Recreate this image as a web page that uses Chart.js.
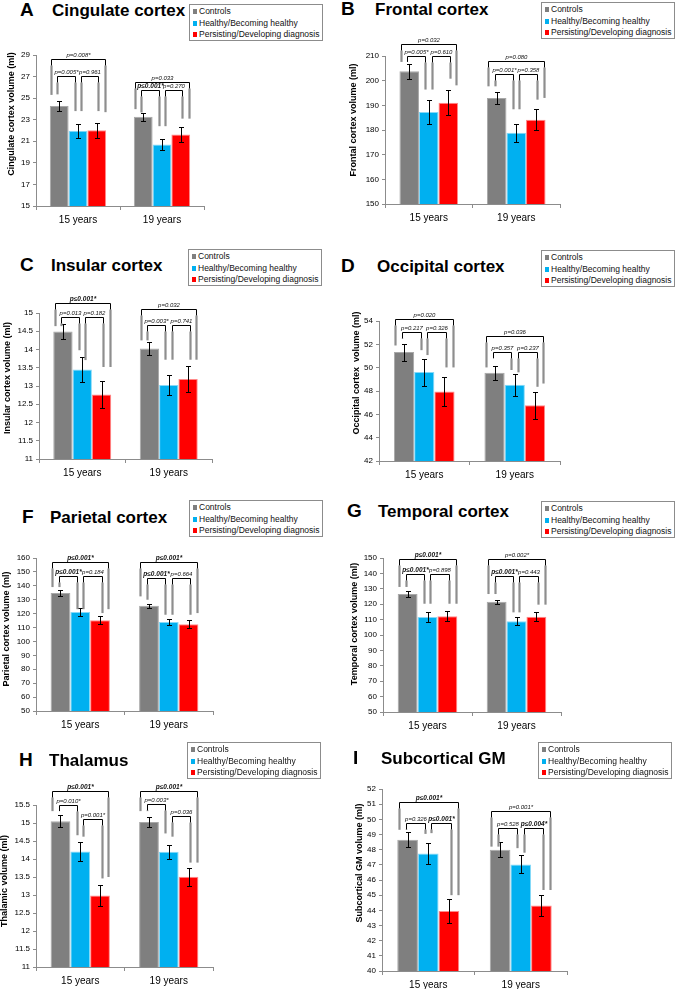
<!DOCTYPE html>
<html>
<head>
<meta charset="utf-8">
<script src="https://cdn.jsdelivr.net/npm/chart.js@4.4.0/dist/chart.umd.min.js"></script>
<style>
  body { margin: 0; width: 677px; height: 989px; position: relative; background: #fff; overflow: hidden; font-family: "Liberation Sans", Arial, sans-serif; }
  canvas { position: absolute; }
  .letter { position: absolute; font-weight: bold; font-size: 19px; line-height: 19px; color: #000; }
  .title { position: absolute; font-weight: bold; font-size: 17px; line-height: 17px; color: #000; white-space: nowrap; }
  .legend { position: absolute; width: 134px; height: 37px; box-sizing: border-box; border: 1px solid #8c8c8c; padding: 1px 0 0 3px; font-size: 8.5px; color: #111; }
  .legend div { height: 11.5px; line-height: 11.5px; white-space: nowrap; }
  .legend i { display: inline-block; width: 4px; height: 5px; margin-right: 2px; vertical-align: 0; }
</style>
</head>
<body>
<script>
const ages = ['15 years', '19 years'];
const groups = ['Controls', 'Healthy/Becoming healthy', 'Persisting/Developing diagnosis'];

// means and error bars: one array per group, values for 15 and 19 years
// p-value brackets: [age, bracket, top, left leg end, right leg end, label]
const cingulateMean = [[24.26, 23.27], [21.97, 20.70], [22.03, 21.63]];
const cingulateSem = [[0.43, 0.39], [0.63, 0.52], [0.70, 0.68]];
const cingulateTicks = [15, 29, 2];
const cingulateP = [
    [0, 0, 28.6, 25.3, 23.7, 'p=0.008*'],
    [0, 1, 27.05, 25.35, 23.8, 'p=0.005*'],
    [0, 2, 27.05, 23.8, 23.8, 'p=0.961'],
    [1, 0, 26.5, 23.98, 23.1, 'p=0.033'],
    [1, 1, 25.74, 23.67, 22.4, 'p≤0.001*'],
    [1, 2, 25.74, 22.4, 23.1, 'p=0.270']
];

const frontalMean = [[203.8, 193.0], [187.3, 178.9], [191.0, 184.2]];
const frontalSem = [[3.1, 2.4], [4.8, 3.6], [5.1, 4.3]];
const frontalTicks = [150, 210, 10];
const frontalP = [
    [0, 0, 215, 207.6, 198.1, 'p=0.032'],
    [0, 1, 210, 207.6, 196.4, 'p=0.005*'],
    [0, 2, 210, 196.4, 200.8, 'p=0.610'],
    [1, 0, 207.8, 197.7, 193, 'p=0.080'],
    [1, 1, 202.6, 197.7, 188.4, 'p=0.001*'],
    [1, 2, 202.6, 188.4, 192.3, 'p=0.358']
];

const insularMean = [[14.49, 14.03], [13.45, 13.03], [12.77, 13.19]];
const insularSem = [[0.21, 0.17], [0.34, 0.27], [0.37, 0.36]];
const insularTicks = [11, 15, 0.5];
const insularP = [
    [0, 0, 15.28, 14.64, 13.52, 'p≤0.001*'],
    [0, 1, 14.89, 14.64, 13.98, 'p=0.013'],
    [0, 2, 14.89, 13.71, 13.52, 'p=0.182'],
    [1, 0, 15.12, 14.25, 13.72, 'p=0.032'],
    [1, 1, 14.68, 14.25, 13.72, 'p=0.003*'],
    [1, 2, 14.68, 13.72, 13.72, 'p=0.741']
];

const occipitalMean = [[51.34, 49.56], [49.62, 48.53], [47.96, 46.78]];
const occipitalSem = [[0.73, 0.6], [1.15, 0.92], [1.25, 1.17]];
const occipitalTicks = [42, 54, 2];
const occipitalP = [
    [0, 0, 54.2, 51.9, 50.02, 'p=0.020'],
    [0, 1, 53.05, 52.48, 51.5, 'p=0.217'],
    [0, 2, 53.05, 51.08, 50.02, 'p=0.326'],
    [1, 0, 52.74, 50.02, 48.64, 'p=0.036'],
    [1, 1, 51.34, 50.8, 49.8, 'p=0.357'],
    [1, 2, 51.34, 49.6, 48.36, 'p=0.237']
];

const parietalMean = [[134.8, 125.6], [121.1, 113.9], [115.3, 112.4]];
const parietalSem = [[2.0, 1.6], [3.1, 2.2], [3.0, 2.8]];
const parietalTicks = [50, 160, 10];
const parietalP = [
    [0, 0, 157.1, 139.1, 123.2, 'p≤0.001*'],
    [0, 1, 147.3, 139.1, 123.2, 'p≤0.001*'],
    [0, 2, 147.3, 123.2, 120.4, 'p=0.184'],
    [1, 0, 157.1, 132.4, 120.4, 'p≤0.001*'],
    [1, 1, 145.6, 130, 119.2, 'p≤0.001*'],
    [1, 2, 145.6, 119.2, 119.2, 'p=0.664']
];

const temporalMean = [[126.6, 121.6], [111.7, 108.9], [112.1, 111.9]];
const temporalSem = [[2.1, 1.4], [3.1, 2.5], [3.2, 3.0]];
const temporalTicks = [50, 150, 10];
const temporalP = [
    [0, 0, 149.4, 131.2, 120.3, 'p≤0.001*'],
    [0, 1, 139.8, 131.2, 120.3, 'p≤0.001*'],
    [0, 2, 139.8, 120.3, 120.3, 'p=0.898'],
    [1, 0, 149.4, 126.6, 119.7, 'p=0.002*'],
    [1, 1, 138.3, 126.6, 114.7, 'p≤0.001*'],
    [1, 2, 138.3, 114.7, 119.7, 'p=0.443']
];

const thalamusMean = [[15.05, 15.03], [14.21, 14.2], [12.985, 13.51]];
const thalamusSem = [[0.16, 0.15], [0.265, 0.2], [0.28, 0.25]];
const thalamusTicks = [11, 15.5, 0.5];
const thalamusP = [
    [0, 0, 15.89, 15.33, 13.5, 'p≤0.001*'],
    [0, 1, 15.5, 15.33, 14.66, 'p=0.010*'],
    [0, 2, 15.1, 14.62, 13.46, 'p=0.001*'],
    [1, 0, 15.89, 15.33, 13.9, 'p≤0.001*'],
    [1, 1, 15.53, 15.33, 14.71, 'p=0.003*'],
    [1, 2, 15.19, 14.62, 13.9, 'p=0.036']
];

const subcorticalMean = [[48.65, 48.0], [47.75, 47.03], [43.95, 44.32]];
const subcorticalSem = [[0.5, 0.5], [0.72, 0.6], [0.8, 0.72]];
const subcorticalTicks = [40, 52, 1];
const subcorticalP = [
    [0, 0, 51.12, 49.31, 45.0, 'p≤0.001*'],
    [0, 1, 49.75, 49.31, 49.04, 'p=0.326'],
    [0, 2, 49.75, 49.09, 45.0, 'p≤0.001*'],
    [1, 0, 50.52, 48.2, 45.34, 'p=0.001*'],
    [1, 1, 49.42, 48.2, 48.1, 'p=0.528'],
    [1, 2, 49.42, 47.8, 45.34, 'p≤0.004*']
];

const COLORS = ['#7f7f7f', '#00b0f0', '#ff0000'];
const EDGES = ['#a8a8a8', '#86d9f8', '#ff8a8a'];
// leg positions of each bracket, in bar steps from the first bar of the group
const LEGS = [[-0.43, 2.42], [-0.1, 0.82], [1.15, 2.08]];

// area = [left, top, right, bottom] of the plot; axisTitle = centre of y title; head = [letter x, title x, baseline]
const panels = [
    { letter: 'A', name: 'Cingulate cortex', yTitle: 'Cingulate cortex volume (ml)', mean: cingulateMean, sem: cingulateSem, ticks: cingulateTicks, p: cingulateP,
      col: 0, area: [36, 55, 204, 206], axisTitle: [12, 114], head: [20, 52, 16], legend: [189, 4] },
    { letter: 'B', name: 'Frontal cortex', yTitle: 'Frontal cortex volume (ml)', mean: frontalMean, sem: frontalSem, ticks: frontalTicks, p: frontalP,
      col: 1, area: [385, 56, 560, 204], axisTitle: [354, 120], head: [341, 375, 15], legend: [541, 2] },
    { letter: 'C', name: 'Insular cortex', yTitle: 'Insular cortex volume (ml)', mean: insularMean, sem: insularSem, ticks: insularTicks, p: insularP,
      col: 0, area: [39, 313, 212, 459], axisTitle: [8, 378], head: [20, 51, 271], legend: [188, 249] },
    { letter: 'D', name: 'Occipital cortex', yTitle: 'Occipital cortex  volume (ml)', mean: occipitalMean, sem: occipitalSem, ticks: occipitalTicks, p: occipitalP,
      col: 1, area: [379, 321, 560, 461], axisTitle: [357, 373], head: [341, 377, 272], legend: [541, 250] },
    { letter: 'F', name: 'Parietal cortex', yTitle: 'Parietal cortex volume (ml)', mean: parietalMean, sem: parietalSem, ticks: parietalTicks, p: parietalP,
      col: 0, area: [36, 558, 213, 711], axisTitle: [7, 629], head: [22, 50, 523], legend: [189, 500] },
    { letter: 'G', name: 'Temporal cortex', yTitle: 'Temporal cortex volume (ml)', mean: temporalMean, sem: temporalSem, ticks: temporalTicks, p: temporalP,
      col: 1, area: [383, 558, 561, 712], axisTitle: [355, 624], head: [347, 378, 517], legend: [541, 501] },
    { letter: 'H', name: 'Thalamus', yTitle: 'Thalamic volume (ml)', mean: thalamusMean, sem: thalamusSem, ticks: thalamusTicks, p: thalamusP,
      col: 0, area: [36, 805, 213, 967], axisTitle: [5, 881], head: [19, 49, 766], legend: [187, 742] },
    { letter: 'I', name: 'Subcortical GM', yTitle: 'Subcortical GM volume (ml)', mean: subcorticalMean, sem: subcorticalSem, ticks: subcorticalTicks, p: subcorticalP,
      col: 1, area: [382, 789, 567, 971], axisTitle: [360, 863], head: [353, 381, 764], legend: [538, 742] }
];

Chart.defaults.font.family = '"Liberation Sans", Arial, sans-serif';

function line(ctx, x1, y1, x2, y2) {
    ctx.beginPath();
    ctx.moveTo(x1, y1);
    ctx.lineTo(x2, y2);
    ctx.stroke();
}

// error bars, p-value brackets and the y title
const extras = {
    id: 'extras',
    afterDatasetsDraw(chart, args, opts) {
        const ctx = chart.ctx;
        const y = chart.scales.y;
        ctx.save();

        ctx.strokeStyle = '#000';
        ctx.lineWidth = 1;
        chart.data.datasets.forEach((ds, si) => {
            chart.getDatasetMeta(si).data.forEach((bar, ci) => {
                const v = ds.data[ci], e = opts.sem[si][ci];
                const x = Math.round(bar.x) + 0.5;
                const y1 = Math.round(y.getPixelForValue(v + e)) + 0.5;
                const y2 = Math.round(y.getPixelForValue(v - e)) + 0.5;
                line(ctx, x, y1, x, y2);
                line(ctx, x - 2.5, y1, x + 2.5, y1);
                line(ctx, x - 2.5, y2, x + 2.5, y2);
            });
        });

        opts.p.forEach(([ci, kind, top, lb, rb, text]) => {
            const b0 = chart.getDatasetMeta(0).data[ci];
            const b1 = chart.getDatasetMeta(1).data[ci];
            const step = b1.x - b0.x;
            const xl = Math.round(b0.x + LEGS[kind][0] * step) + 0.5;
            const xr = Math.round(b0.x + LEGS[kind][1] * step) + 0.5;
            const yt = Math.round(y.getPixelForValue(top)) + 0.5;
            const yl = y.getPixelForValue(lb), yr = y.getPixelForValue(rb);
            const cut = yt + 6;

            ctx.strokeStyle = '#8e8e8e';
            ctx.lineWidth = 2.2;
            if (yl > cut) line(ctx, xl, cut, xl, yl);
            if (yr > cut) line(ctx, xr, cut, xr, yr);

            ctx.strokeStyle = '#000';
            ctx.lineWidth = 1;
            ctx.beginPath();
            ctx.moveTo(xl, Math.min(yl, cut));
            ctx.lineTo(xl, yt);
            ctx.lineTo(xr, yt);
            ctx.lineTo(xr, Math.min(yr, cut));
            ctx.stroke();

            const bold = text.includes('≤');
            ctx.fillStyle = '#111';
            ctx.font = (bold ? 'italic bold 6.5px ' : 'italic 6px ') + '"Liberation Sans", Arial, sans-serif';
            ctx.textAlign = 'center';
            ctx.textBaseline = 'bottom';
            ctx.fillText(text, (xl + xr) / 2, yt - 1.5);
        });

        ctx.translate(opts.tx, opts.ty);
        ctx.rotate(-Math.PI / 2);
        ctx.fillStyle = '#000';
        ctx.font = 'bold 9px "Liberation Sans", Arial, sans-serif';
        ctx.textAlign = 'center';
        ctx.textBaseline = 'middle';
        ctx.fillText(opts.yTitle, 0, 0);
        ctx.restore();
    }
};

panels.forEach(p => {
    const [l, t, r, b] = p.area;
    const x = p.col ? 338 : 0, w = p.col ? 339 : 338;
    const y = t - 70, h = b + 26 - y;

    const canvas = document.createElement('canvas');
    canvas.width = w;
    canvas.height = h;
    canvas.style.left = x + 'px';
    canvas.style.top = y + 'px';

    const letter = document.createElement('div');
    letter.className = 'letter';
    letter.textContent = p.letter;
    letter.style.left = p.head[0] + 'px';
    letter.style.top = (p.head[2] - 16) + 'px';

    const title = document.createElement('div');
    title.className = 'title';
    title.textContent = p.name;
    title.style.left = p.head[1] + 'px';
    title.style.top = (p.head[2] - 14) + 'px';

    const legend = document.createElement('div');
    legend.className = 'legend';
    legend.style.left = p.legend[0] + 'px';
    legend.style.top = p.legend[1] + 'px';
    groups.forEach((g, i) => {
        const row = document.createElement('div');
        row.innerHTML = '<i style="background:' + COLORS[i] + '"></i>' + g;
        legend.appendChild(row);
    });

    document.body.appendChild(letter);
    document.body.appendChild(title);
    document.body.appendChild(legend);
    document.body.appendChild(canvas);

    new Chart(canvas, {
        type: 'bar',
        data: {
            labels: ages,
            datasets: groups.map((g, si) => ({
                label: g,
                data: p.mean[si],
                backgroundColor: COLORS[si],
                borderColor: EDGES[si],
                borderWidth: 1,
                borderSkipped: 'bottom',
                categoryPercentage: 0.67,
                barPercentage: 1
            }))
        },
        options: {
            responsive: false,
            animation: false,
            layout: { padding: { left: l - x - 30, top: t - y, right: x + w - r, bottom: 4 } },
            plugins: {
                legend: { display: false },
                tooltip: { enabled: false },
                extras: { sem: p.sem, p: p.p, yTitle: p.yTitle, tx: p.axisTitle[0] - x, ty: p.axisTitle[1] - y }
            },
            scales: {
                x: {
                    grid: { offset: true, drawOnChartArea: false, tickLength: 4, color: '#8c8c8c' },
                    border: { color: '#8c8c8c' },
                    ticks: { padding: 4, color: '#000', font: { size: 10 } },
                    afterFit: s => { s.height = 22; }
                },
                y: {
                    min: p.ticks[0],
                    max: p.ticks[1],
                    ticks: { stepSize: p.ticks[2], autoSkip: false, padding: 3, color: '#000', font: { size: 8 }, callback: v => v },
                    grid: { drawOnChartArea: false, tickLength: 3, color: '#8c8c8c' },
                    border: { color: '#8c8c8c' },
                    afterFit: s => { s.width = 30; }
                }
            }
        },
        plugins: [extras]
    });
});
</script>
</body>
</html>
